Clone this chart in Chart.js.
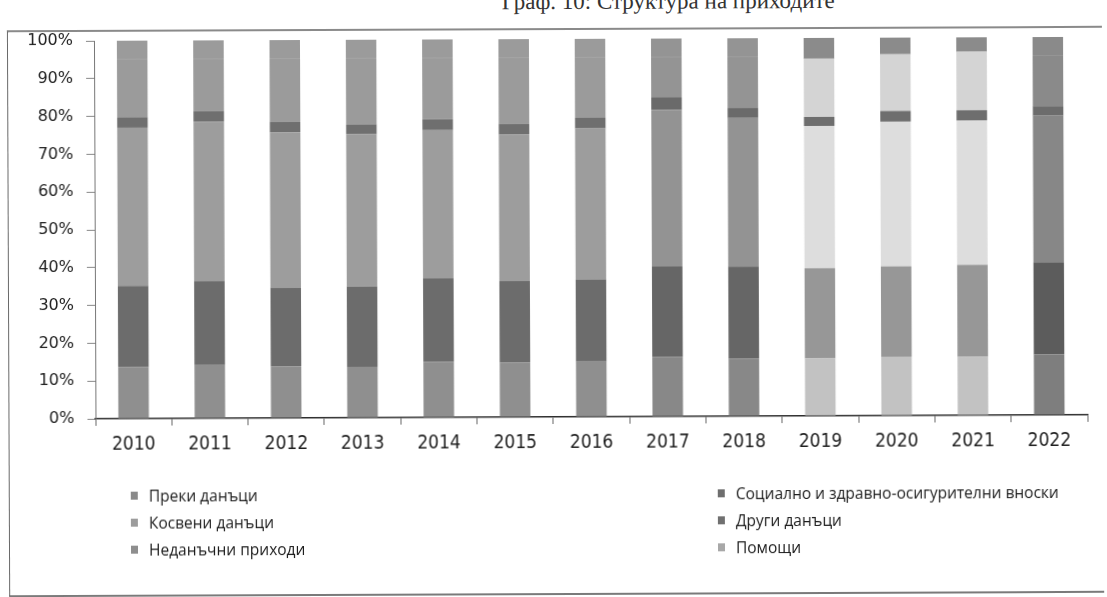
<!DOCTYPE html>
<html lang="bg">
<head>
<meta charset="utf-8">
<title>Структура на приходите</title>
<script src="https://cdn.jsdelivr.net/npm/chart.js@4/dist/chart.umd.min.js"></script>
<style>
    html, body {
        margin: 0;
        padding: 0;
        background: #ffffff;
        width: 1107px;
        height: 597px;
        overflow: hidden;
    }
    #page {
        position: relative;
        width: 1107px;
        height: 597px;
        transform: rotate(-0.23deg);
        transform-origin: 50% 50%;
    }
    #title {
        position: absolute;
        left: 503px;
        top: -10px;
        font-family: "Liberation Serif", "DejaVu Serif", serif;
        font-size: 23px;
        line-height: 24px;
        color: #333;
        white-space: nowrap;
    }
    #frame {
        position: absolute;
        left: 8px;
        top: 28px;
        width: 1094px;
        height: 563px;
        border-left: 1.5px solid #6a6a6a;
        border-top: 2px solid #8a8a8a;
        border-bottom: 2px solid #7a7a7a;
    }
    #chart {
        position: absolute;
        left: 0;
        top: 0;
    }
    #legend {
        position: absolute;
        left: 0;
        top: 0;
        width: 100%;
        height: 100%;
        pointer-events: none;
    }
    .legend-item {
        position: absolute;
        display: flex;
        align-items: center;
        font-family: "Open Sans", "Noto Sans", sans-serif;
        font-size: 15.5px;
        color: #1c1c1c;
        white-space: nowrap;
    }
    .legend-item .swatch {
        width: 7px;
        height: 8px;
        margin-right: 11px;
    }
</style>
</head>
<body>
<div id="page">
    <div id="title">Граф. 10: Структура на приходите</div>
    <div id="frame"></div>
    <canvas id="chart" width="1107" height="470"></canvas>
    <div id="legend"></div>
</div>
<script>
// Years on the category axis
const years = ['2010', '2011', '2012', '2013', '2014', '2015', '2016',
    '2017', '2018', '2019', '2020', '2021', '2022'];

// Shares of total revenue, %
const directTaxes = [13.7, 14.1, 13.6, 13.5, 14.7, 14.4, 14.6, 15.8, 15.3, 15.2, 15.6, 15.5, 16.0];
const socialContributions = [21.4, 22.3, 20.9, 21.2, 22.1, 21.6, 21.8, 23.9, 24.3, 23.9, 23.9, 24.3, 24.4];
const indirectTaxes = [41.9, 42.1, 41.1, 40.3, 39.2, 38.8, 39.9, 41.4, 39.3, 37.6, 38.3, 38.2, 38.8];
const otherTaxes = [2.8, 2.8, 2.8, 2.6, 2.9, 2.8, 2.8, 3.3, 2.6, 2.4, 2.8, 2.7, 2.5];
const nonTaxRevenue = [15.2, 13.7, 16.6, 17.4, 16.1, 17.4, 15.9, 10.6, 13.5, 15.4, 15.0, 15.5, 13.3];
const grants = [5.0, 5.0, 5.0, 5.0, 5.0, 5.0, 5.0, 5.0, 5.0, 5.5, 4.4, 3.8, 5.0];

// Y axis range and step, %
const yMax = 100;
const yStep = 10;

// Grey shades per series for each group of years (2010-16, 2017-18, 2019-21, 2022)
const shades = {
    direct:   ['#8f8f8f', '#888888', '#c2c2c2', '#7e7e7e'],
    social:   ['#6c6c6c', '#666666', '#979797', '#5c5c5c'],
    indirect: ['#9d9d9d', '#939393', '#dddddd', '#878787'],
    other:    ['#6f6f6f', '#6a6a6a', '#6e6e6e', '#6c6c6c'],
    nonTax:   ['#9b9b9b', '#949494', '#d4d4d4', '#8a8a8a'],
    grants:   ['#9b9b9b', '#949494', '#8b8b8b', '#8a8a8a']
};

function groupOf(year) {
    const y = Number(year);
    if (y <= 2016) return 0;
    if (y <= 2018) return 1;
    if (y <= 2021) return 2;
    return 3;
}

function barColors(key) {
    return years.map(y => shades[key][groupOf(y)]);
}

const series = [
    { label: 'Преки данъци', data: directTaxes, key: 'direct', legend: '#8a8a8a' },
    { label: 'Социално и здравно-осигурителни вноски', data: socialContributions, key: 'social', legend: '#6e6e6e' },
    { label: 'Косвени данъци', data: indirectTaxes, key: 'indirect', legend: '#9c9c9c' },
    { label: 'Други данъци', data: otherTaxes, key: 'other', legend: '#707070' },
    { label: 'Неданъчни приходи', data: nonTaxRevenue, key: 'nonTax', legend: '#8e8e8e' },
    { label: 'Помощи', data: grants, key: 'grants', legend: '#a8a8a8' }
];

const ctx = document.getElementById('chart').getContext('2d');
const chart = new Chart(ctx, {
    type: 'bar',
    data: {
        labels: years,
        datasets: series.map(s => ({
            label: s.label,
            data: s.data,
            backgroundColor: barColors(s.key),
            borderWidth: 0,
            barPercentage: 0.4,
            categoryPercentage: 1.0
        }))
    },
    options: {
        responsive: false,
        animation: false,
        layout: {
            padding: { top: 39, right: 20, left: 0, bottom: 0 }
        },
        plugins: {
            legend: { display: false },
            tooltip: { enabled: false }
        },
        scales: {
            x: {
                stacked: true,
                afterFit: scale => { scale.height = 53; },
                border: { color: '#2e2e2e', width: 1.6 },
                grid: {
                    offset: true,
                    drawOnChartArea: false,
                    tickLength: 7,
                    color: '#666666'
                },
                ticks: {
                    color: '#1e1e1e',
                    padding: 8,
                    font: { family: '"DejaVu Sans Condensed", "DejaVu Sans", sans-serif', size: 19 }
                }
            },
            y: {
                stacked: true,
                min: 0,
                max: yMax,
                afterFit: scale => { scale.width = 95; },
                border: { color: '#777777', width: 1 },
                grid: {
                    drawOnChartArea: false,
                    tickLength: 8,
                    color: '#888888'
                },
                ticks: {
                    stepSize: yStep,
                    color: '#222222',
                    padding: 13,
                    font: { family: '"DejaVu Sans", sans-serif', size: 16 },
                    callback: value => value + '%'
                }
            }
        }
    }
});

// Two-column legend, filled row by row in series order
const legendPos = [
    { left: 130, top: 494 }, { left: 717, top: 494 },
    { left: 130, top: 521 }, { left: 717, top: 521 },
    { left: 130, top: 548 }, { left: 717, top: 548 }
];
const legendBox = document.getElementById('legend');
chart.data.datasets.forEach((ds, i) => {
    const pos = legendPos[i];
    const item = document.createElement('div');
    item.className = 'legend-item';
    item.style.left = pos.left + 'px';
    item.style.top = (pos.top - 11) + 'px';
    const swatch = document.createElement('span');
    swatch.className = 'swatch';
    swatch.style.background = series[i].legend;
    const text = document.createElement('span');
    text.textContent = ds.label;
    item.appendChild(swatch);
    item.appendChild(text);
    legendBox.appendChild(item);
});
</script>
</body>
</html>
